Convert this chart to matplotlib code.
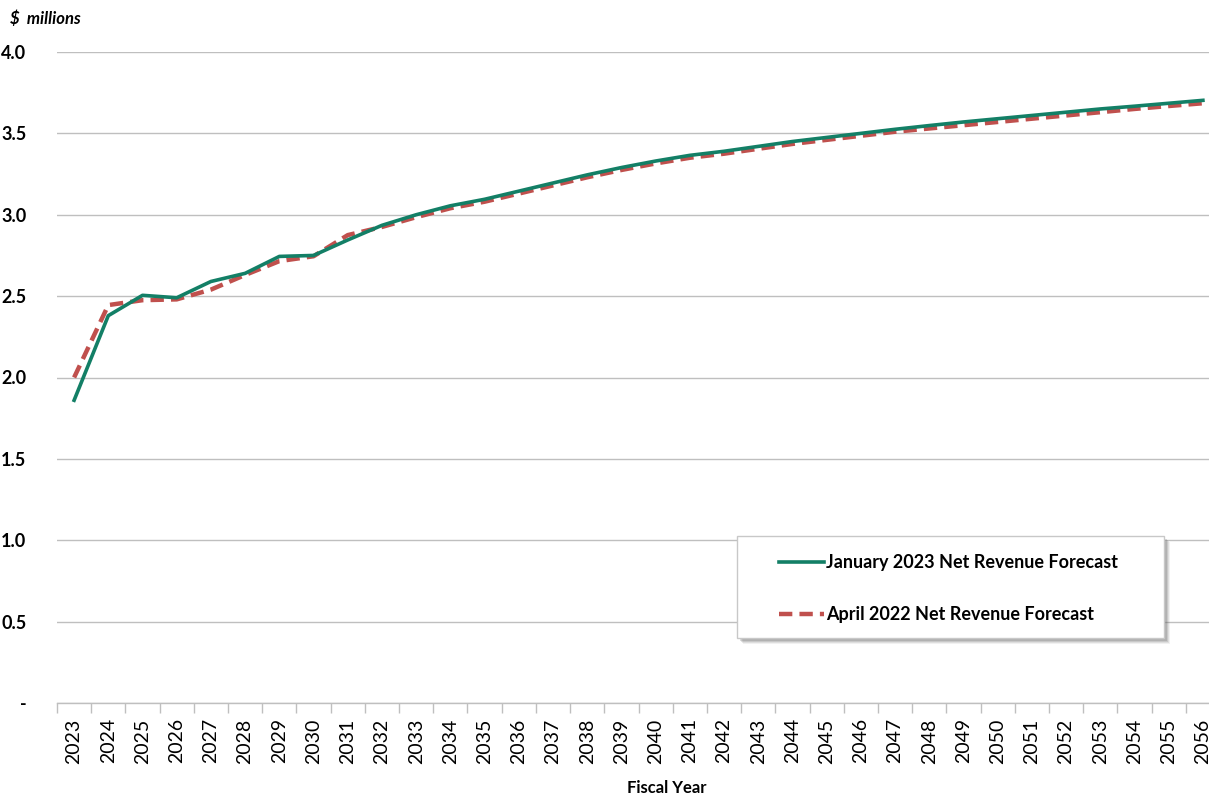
import matplotlib
matplotlib.use("Agg")
import matplotlib.pyplot as plt
from matplotlib.patches import Rectangle
import numpy as np

# === data ($ millions) ===
years = list(range(2023, 2057))
jan_2023 = [1.86, 2.38, 2.505, 2.49, 2.59, 2.64, 2.744, 2.75, 2.845, 2.935,
            3.00, 3.055, 3.095, 3.145, 3.195, 3.245, 3.29, 3.33, 3.365, 3.39,
            3.42, 3.45, 3.475, 3.50, 3.525, 3.548, 3.57, 3.59, 3.61, 3.63,
            3.65, 3.667, 3.685, 3.703]
apr_2022 = [2.00, 2.445, 2.475, 2.48, 2.54, 2.63, 2.715, 2.745, 2.875, 2.925,
            2.985, 3.04, 3.08, 3.13, 3.18, 3.23, 3.275, 3.315, 3.35, 3.375,
            3.405, 3.435, 3.46, 3.485, 3.51, 3.53, 3.55, 3.57, 3.59, 3.61,
            3.63, 3.65, 3.668, 3.685]
y_ticks = [0, 0.5, 1.0, 1.5, 2.0, 2.5, 3.0, 3.5, 4.0]
y_labels = ["-", "0.5", "1.0", "1.5", "2.0", "2.5", "3.0", "3.5", "4.0"]

GREEN = "#137f66"
RED = "#c0504d"
GRID = "#bfbfbf"
W, H = 1209, 796

plt.rcParams["font.family"] = ["Lato", "DejaVu Sans"]

fig = plt.figure(figsize=(W / 100, H / 100), dpi=100)
ax = fig.add_axes([57 / W, 93 / H, 1163 / W, 651 / H])

x = np.arange(len(years))
ax.plot(x, jan_2023, color=GREEN, lw=2.6, label="January 2023 Net Revenue Forecast",
        solid_joinstyle="round", zorder=3)
ax.plot(x, apr_2022, color=RED, lw=3.2, ls=(0, (3, 1.6)),
        label="April 2022 Net Revenue Forecast", zorder=2)

ax.set_xlim(-0.5, len(years) - 0.5)
ax.set_ylim(0, 4.0)
ax.set_yticks(y_ticks)
ax.set_yticklabels(y_labels, fontsize=13, fontweight="bold")
ax.tick_params(axis="y", length=0, pad=22)
ax.yaxis.grid(True, color=GRID, lw=1.0)
ax.set_axisbelow(True)

ax.set_xticks(x)
ax.set_xticklabels([str(y) for y in years], rotation=90, fontsize=14)
ax.tick_params(axis="x", which="major", length=0, pad=11)
ax.set_xticks(np.arange(-0.5, len(years)), minor=True)
ax.tick_params(axis="x", which="minor", length=7, color=GRID, width=1.0)

for s in ["left", "right", "top"]:
    ax.spines[s].set_visible(False)
ax.spines["bottom"].set_color(GRID)
ax.spines["bottom"].set_linewidth(1.0)

fig.text(10 / W, 1 - 19 / H, "$  millions", fontsize=12, fontweight="bold",
         fontstyle="italic", va="center", ha="left")
fig.text(667 / W, 1 - 788 / H, "Fiscal Year", fontsize=12, fontweight="bold",
         va="center", ha="center")

# legend box with soft drop shadow, drawn in figure pixels
bx0, by0, bx1, by1 = 737, 536, 1164, 638
for off, a in [(6, 0.08), (5, 0.12), (4, 0.16), (3, 0.2)]:
    fig.patches.append(Rectangle(((bx0 + off) / W, 1 - (by1 + off) / H),
                                 (bx1 - bx0) / W, (by1 - by0) / H,
                                 transform=fig.transFigure, facecolor="0.35",
                                 edgecolor="none", alpha=a, zorder=5))
fig.patches.append(Rectangle((bx0 / W, 1 - by1 / H), (bx1 - bx0) / W, (by1 - by0) / H,
                             transform=fig.transFigure, facecolor="white",
                             edgecolor="#c8c8c8", lw=1.0, zorder=6))

leg = fig.legend(loc="upper left", bbox_to_anchor=(779 / W, 1 - 554 / H),
                 prop={"weight": "bold", "size": 13}, handlelength=2.5,
                 handletextpad=0.1, labelspacing=1.95, borderpad=0,
                 borderaxespad=0, frameon=False)
leg.set_zorder(7)

fig.savefig("out.png", dpi=100)
